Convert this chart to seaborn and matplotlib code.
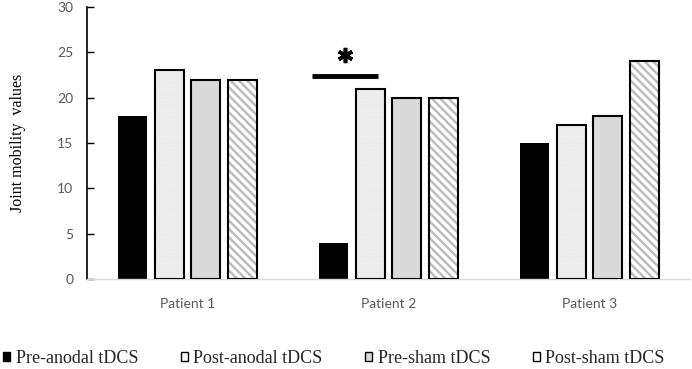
import matplotlib
matplotlib.use("Agg")
import matplotlib.pyplot as plt
import matplotlib.patches as mpatches
import seaborn as sns
import pandas as pd

patients = ["Patient 1", "Patient 2", "Patient 3"]
conditions = ["Pre-anodal tDCS", "Post-anodal tDCS", "Pre-sham tDCS", "Post-sham tDCS"]
pre_anodal = [18, 4, 15]
post_anodal = [23, 21, 17]
pre_sham = [22, 20, 18]
post_sham = [22, 20, 24]
y_ticks = [0, 5, 10, 15, 20, 25, 30]
y_label = "Joint mobility  values"
sig_level = 22.4
sig_star_level = 24.7

rows = []
for cond, vals in zip(conditions, [pre_anodal, post_anodal, pre_sham, post_sham]):
    for p, v in zip(patients, vals):
        rows.append({"Patient": p, "Condition": cond, "Value": v})
df = pd.DataFrame(rows)

faces = ["#000000", "#f7f7f7", "#d9d9d9", "#ffffff"]
hatches = [None, "........", None, "\\\\\\\\"]
hatch_cols = [None, "#e0e0e0", None, "#bdbdbd"]

sns.set_theme(style="white")

fig = plt.figure(figsize=(6.92, 3.69), dpi=100)
ax = fig.add_axes([0.126, 0.244, 0.871, 0.737])

sns.barplot(data=df, x="Patient", y="Value", hue="Condition", order=patients,
            hue_order=conditions, palette=faces, width=0.73, gap=0.21,
            legend=False, ax=ax, saturation=1)

for i, cont in enumerate(ax.containers):
    hlw = 1.0 if i == 1 else 1.8
    for p in cont.patches:
        p.set_linewidth(0)
        if hatches[i]:
            p.set_hatch(hatches[i])
            p.set_edgecolor(hatch_cols[i])
            p._hatch_linewidth = hlw
        if i > 0:
            ax.add_patch(mpatches.Rectangle((p.get_x(), p.get_y()), p.get_width(),
                                            p.get_height(), facecolor="none",
                                            edgecolor="black", linewidth=1.5, zorder=3))

# significance marker on Patient 2
b0 = ax.containers[0].patches[1]
b1 = ax.containers[1].patches[1]
x0 = b0.get_x() - 0.035
x1 = b1.get_x() + b1.get_width() * 0.77
ax.plot([x0, x1], [sig_level, sig_level], color="black", linewidth=3.5,
        solid_capstyle="butt")
ax.plot([(x0 + x1) / 2], [sig_star_level], marker=(6, 2, 0), markersize=11,
        markeredgewidth=2.6, color="black")

ax.set_ylim(0, 30)
ax.set_xlim(-0.5, 2.5)
ax.set_yticks(y_ticks)
ax.set_xlabel("")
ax.set_ylabel(y_label, family="Liberation Serif", fontsize=11.5, color="black", labelpad=22)
ax.tick_params(axis="y", left=True, direction="in", length=5, width=1, color="black",
               labelsize=10, labelcolor="#595959", pad=10)
ax.tick_params(axis="x", bottom=False, labelsize=10, labelcolor="#595959", pad=8)
for lab in ax.get_yticklabels() + ax.get_xticklabels():
    lab.set_family("Lato")
for s in ["top", "right"]:
    ax.spines[s].set_visible(False)
ax.spines["left"].set_color("black")
ax.spines["left"].set_linewidth(1.2)
ax.spines["bottom"].set_color("#d9d9d9")
ax.spines["bottom"].set_linewidth(1)

handles = []
for i, c in enumerate(conditions):
    h = mpatches.Patch(facecolor=faces[i], edgecolor="black", linewidth=1, label=c)
    handles.append(h)
leg = fig.legend(handles=handles, loc="center left", bbox_to_anchor=(-0.019, 0.028),
                 ncol=4, frameon=False, handlelength=0.4, handleheight=0.4,
                 handletextpad=0.3, columnspacing=2.35,
                 prop={"family": "Liberation Serif", "size": 13})

fig.savefig("out.png", dpi=100)
